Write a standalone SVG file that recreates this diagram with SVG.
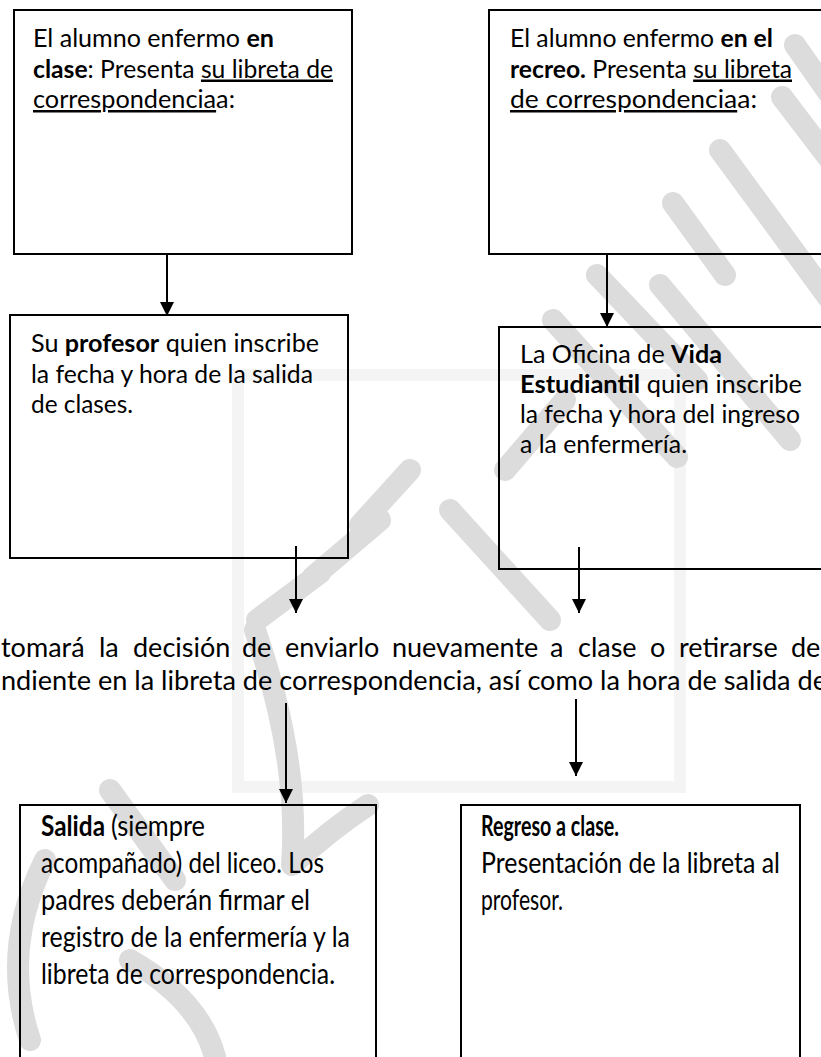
<svg xmlns="http://www.w3.org/2000/svg" width="821" height="1057" viewBox="0 0 821 1057">
<defs>
<style>
.box{fill:none;stroke:#000;stroke-width:2}
.t{font-family:Lato,"Liberation Sans",sans-serif;font-size:25px;fill:#000}
.tb{font-family:Lato,"Liberation Sans",sans-serif;font-size:28px;fill:#000}
.tm{font-family:Lato,"Liberation Sans",sans-serif;font-size:27px;fill:#000}
.b{font-weight:bold}
.u{text-decoration:underline}
.wm{fill:none;stroke:#dcdcdc;stroke-width:22;stroke-linecap:round;stroke-linejoin:round}
.wl{fill:none;stroke:#f4f4f4;stroke-width:12}
.c{stroke:#000;stroke-width:2;fill:none}
</style>
<marker id="ah" markerUnits="userSpaceOnUse" markerWidth="14" markerHeight="14" refX="14" refY="7" orient="auto">
<path d="M0,0 L14,7 L0,14 z" fill="#000"/>
</marker>
</defs>
<rect width="821" height="1057" fill="#fff"/>
<g id="watermark">
<rect class="wl" x="238" y="375" width="442" height="412"/>
<path class="wm" d="M795,45 L830,95"/>
<path class="wm" d="M782,97 L830,160"/>
<path class="wm" d="M720,150 L830,300"/>
<path class="wm" d="M673,203 L725,275"/>
<path class="wm" d="M597,275 L697,380"/>
<path class="wm" d="M660,285 L790,440"/>
<path class="wm" d="M553,320 L677,457"/>
<path class="wm" d="M505,470 L565,400"/>
<path class="wm" d="M450,510 L550,620"/>
<path class="wm" d="M360,525 L410,470"/>
<path class="wm" d="M313,577 L380,520"/>
<path class="wm" d="M257,620 L320,573"/>
<path class="wm" d="M255,630 Q300,760 292,865 Q330,830 368,805"/>
<path class="wm" d="M110,790 L175,880"/>
<path class="wm" d="M45,860 Q0,950 30,1040"/>
<path class="wm" d="M130,960 Q200,1000 215,1057"/>
</g>
<g id="connectors">
<line class="c" x1="167" y1="254" x2="167" y2="316" marker-end="url(#ah)"/>
<line class="c" x1="607" y1="254" x2="607" y2="327" marker-end="url(#ah)"/>
<line class="c" x1="296" y1="546" x2="296" y2="613" marker-end="url(#ah)"/>
<line class="c" x1="579" y1="547" x2="579" y2="613" marker-end="url(#ah)"/>
<line class="c" x1="286" y1="703" x2="286" y2="803" marker-end="url(#ah)"/>
<line class="c" x1="576" y1="699" x2="576" y2="776" marker-end="url(#ah)"/>
</g>
<g id="node-clase">
<rect class="box" x="14" y="10" width="338" height="244"/>
<text class="t" x="33" y="47" textLength="241" lengthAdjust="spacingAndGlyphs">El alumno enfermo <tspan class="b">en</tspan></text>
<text class="t" x="33" y="77.5" textLength="300" lengthAdjust="spacingAndGlyphs"><tspan class="b">clase</tspan>: Presenta <tspan class="u">su libreta de</tspan></text>
<text class="t" x="33" y="108" textLength="202" lengthAdjust="spacingAndGlyphs"><tspan class="u">correspondencia</tspan>a:</text>
</g>
<g id="node-recreo">
<rect class="box" x="489" y="10" width="345" height="244"/>
<text class="t" x="510" y="47" textLength="263" lengthAdjust="spacingAndGlyphs">El alumno enfermo <tspan class="b">en el</tspan></text>
<text class="t" x="510" y="77.5" textLength="282" lengthAdjust="spacingAndGlyphs"><tspan class="b">recreo.</tspan> Presenta <tspan class="u">su libreta</tspan></text>
<text class="t" x="510" y="108" textLength="247" lengthAdjust="spacingAndGlyphs"><tspan class="u">de correspondencia</tspan>a:</text>
</g>
<g id="node-profesor">
<rect class="box" x="10" y="315" width="338" height="243"/>
<text class="t" x="31" y="352" textLength="288" lengthAdjust="spacingAndGlyphs">Su <tspan class="b">profesor</tspan> quien inscribe</text>
<text class="t" x="31" y="382.5" textLength="282" lengthAdjust="spacingAndGlyphs">la fecha y hora de la salida</text>
<text class="t" x="31" y="413" textLength="102" lengthAdjust="spacingAndGlyphs">de clases.</text>
</g>
<g id="node-vida">
<rect class="box" x="499" y="327" width="335" height="242"/>
<text class="t" x="520" y="363" textLength="202" lengthAdjust="spacingAndGlyphs">La Oficina de <tspan class="b">Vida</tspan></text>
<text class="t" x="520" y="393" textLength="282" lengthAdjust="spacingAndGlyphs"><tspan class="b">Estudiantil</tspan> quien inscribe</text>
<text class="t" x="520" y="423" textLength="280" lengthAdjust="spacingAndGlyphs">la fecha y hora del ingreso</text>
<text class="t" x="520" y="453" textLength="167" lengthAdjust="spacingAndGlyphs">a la enfermería.</text>
</g>
<g id="node-decision">
<text class="tm" y="657"><tspan x="1">tomará</tspan><tspan x="99">la</tspan><tspan x="133">decisión</tspan><tspan x="242">de</tspan><tspan x="285">enviarlo</tspan><tspan x="392">nuevamente</tspan><tspan x="550">a</tspan><tspan x="578">clase</tspan><tspan x="650">o</tspan><tspan x="679">retirarse</tspan><tspan x="791">de</tspan></text>
<text class="tm" x="1" y="690" textLength="826" lengthAdjust="spacingAndGlyphs">ndiente en la libreta de correspondencia, así como la hora de salida de</text>
</g>
<g id="node-salida">
<rect class="box" x="20" y="805" width="356" height="270"/>
<text class="tb b" x="41" y="836" textLength="64" lengthAdjust="spacingAndGlyphs">Salida</text>
<text class="tb" x="111" y="836" textLength="94" lengthAdjust="spacingAndGlyphs">(siempre</text>
<text class="tb" x="41" y="873" textLength="283" lengthAdjust="spacingAndGlyphs">acompañado) del liceo. Los</text>
<text class="tb" x="41" y="910" textLength="269" lengthAdjust="spacingAndGlyphs">padres deberán firmar el</text>
<text class="tb" x="41" y="947" textLength="309" lengthAdjust="spacingAndGlyphs">registro de la enfermería y la</text>
<text class="tb" x="41" y="984" textLength="294" lengthAdjust="spacingAndGlyphs">libreta de correspondencia.</text>
</g>
<g id="node-regreso">
<rect class="box" x="461" y="805" width="339" height="270"/>
<text class="tb b" x="481" y="836" textLength="138" lengthAdjust="spacingAndGlyphs">Regreso a clase.</text>
<text class="tb" x="481" y="873" textLength="299" lengthAdjust="spacingAndGlyphs">Presentación de la libreta al</text>
<text class="tb" x="481" y="910" textLength="82" lengthAdjust="spacingAndGlyphs">profesor.</text>
</g>
</svg>
